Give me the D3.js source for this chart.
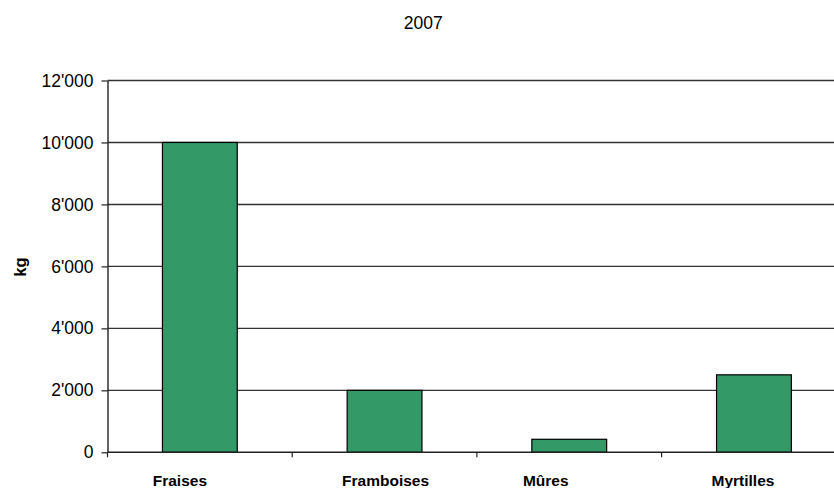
<!DOCTYPE html>
<html>
<head>
<meta charset="utf-8">
<script src="https://cdn.jsdelivr.net/npm/d3@7"></script>
<style>
  html, body { margin: 0; padding: 0; background: #fff; }
  svg { display: block; font-family: "Liberation Sans", Arial, sans-serif; }
</style>
</head>
<body>
<svg id="chart" width="834" height="488"></svg>
<script>
const title = "2007";
const categories = ["Fraises", "Framboises", "Mûres", "Myrtilles"];
const values = [10000, 2000, 420, 2500];
const yTicks = [0, 2000, 4000, 6000, 8000, 10000, 12000];
const yLabel = "kg";

(function () {
const svg = d3.select("#chart");
const pLeft = 107.5, pRight = 846.3, pTop = 80.5, pBottom = 452.3;
// horizontal nudges of category labels, as placed in the original
const labelDx = [-20, 1, -23.5, -11];

const x = d3.scaleBand().domain(categories).range([pLeft, pRight])
  .paddingInner(0.595).paddingOuter(0.2975);
const y = d3.scaleLinear().domain([0, 12000]).range([pBottom, pTop]);

const fmt = v => d3.format(",")(v).replace(/,/g, "'");

// gridlines
svg.append("g").selectAll("line").data(yTicks.filter(d => d > 0)).join("line")
  .attr("x1", pLeft).attr("x2", pRight)
  .attr("y1", d => y(d)).attr("y2", d => y(d))
  .attr("stroke", "#333").attr("stroke-width", 1.4);

// bars
svg.append("g").selectAll("rect").data(categories).join("rect")
  .attr("x", d => x(d)).attr("width", x.bandwidth())
  .attr("y", (d, i) => y(values[i]))
  .attr("height", (d, i) => y(0) - y(values[i]))
  .attr("fill", "#339966").attr("stroke", "#000").attr("stroke-width", 1.2);

// y axis
const yAxis = d3.axisLeft(y).tickValues(yTicks).tickFormat(fmt).tickSizeInner(6).tickSizeOuter(0).tickPadding(8);
const gy = svg.append("g").attr("transform", `translate(${pLeft},0)`).call(yAxis);
gy.select(".domain").attr("stroke", "#222").attr("stroke-width", 1.4);
gy.selectAll(".tick line").attr("stroke", "#222").attr("stroke-width", 1.2);
gy.selectAll("text").attr("font-size", 17.5).attr("fill", "#000")
  .attr("font-family", "Liberation Sans, Arial, sans-serif");

// x axis with category boundary ticks
const xAxisLine = svg.append("g");
xAxisLine.append("line").attr("x1", pLeft).attr("x2", pRight)
  .attr("y1", pBottom).attr("y2", pBottom).attr("stroke", "#222").attr("stroke-width", 1.4);
const boundaries = categories.map(c => x(c) - (x.step() - x.bandwidth()) / 2);
xAxisLine.selectAll("line.tk").data(boundaries).join("line").attr("class", "tk")
  .attr("x1", d => d).attr("x2", d => d)
  .attr("y1", pBottom).attr("y2", pBottom + 5)
  .attr("stroke", "#222").attr("stroke-width", 1.2);

const xAxis = d3.axisBottom(x).tickSize(0).tickPadding(0);
const gx = svg.append("g").attr("transform", `translate(0,${pBottom})`).call(xAxis);
gx.select(".domain").remove();
gx.selectAll("text").attr("dy", null).attr("y", 33.5)
  .attr("x", (d, i) => labelDx[i])
  .attr("font-size", 15.5).attr("font-weight", "bold").attr("fill", "#000")
  .attr("font-family", "Liberation Sans, Arial, sans-serif");

// title
svg.append("text").attr("x", 423.3).attr("y", 29.3).attr("text-anchor", "middle")
  .attr("font-size", 17.5).attr("fill", "#000").text(title);

// y label
svg.append("text").attr("transform", `translate(25.5,267) rotate(-90)`)
  .attr("text-anchor", "middle").attr("font-size", 16.5).attr("font-weight", "bold")
  .attr("fill", "#000").text(yLabel);
})();
</script>
</body>
</html>
